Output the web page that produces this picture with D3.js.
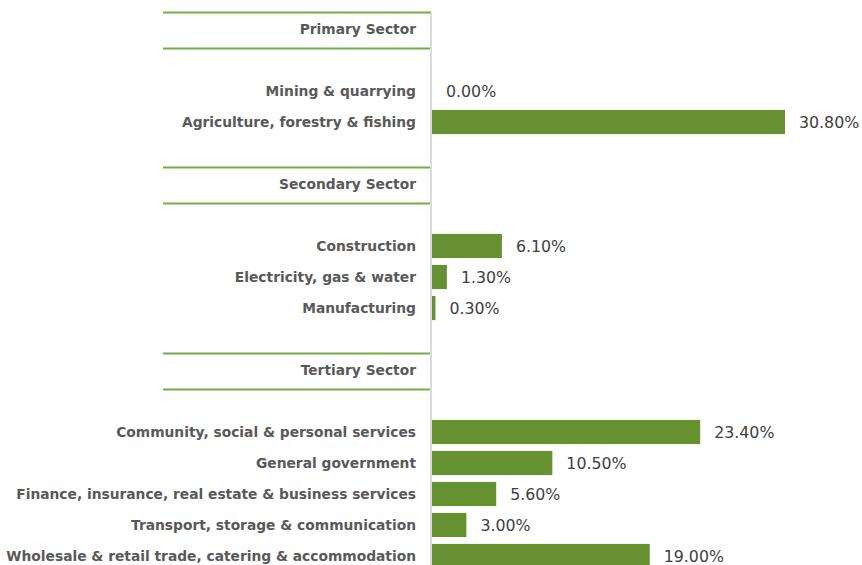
<!DOCTYPE html>
<html>
<head>
<meta charset="utf-8">
<script src="https://cdn.jsdelivr.net/npm/d3@7"></script>
<style>
  body { margin: 0; background: #fff; }
  .label { font-family: "DejaVu Sans", sans-serif; font-weight: bold; fill: #595959; }
  .value { font-family: "DejaVu Sans", sans-serif; fill: #404040; }
</style>
</head>
<body>
<div id="chart"></div>
<script>
// rows from top to bottom; headers and blank spacer rows included
var rows = ["Primary Sector", "gap1", "Mining & quarrying", "Agriculture, forestry & fishing", "gap2",
  "Secondary Sector", "gap3", "Construction", "Electricity, gas & water", "Manufacturing", "gap4",
  "Tertiary Sector", "gap5", "Community, social & personal services", "General government",
  "Finance, insurance, real estate & business services", "Transport, storage & communication",
  "Wholesale & retail trade, catering & accommodation"];

var headers = ["Primary Sector", "Secondary Sector", "Tertiary Sector"];

var categories = ["Mining & quarrying", "Agriculture, forestry & fishing", "Construction",
  "Electricity, gas & water", "Manufacturing", "Community, social & personal services",
  "General government", "Finance, insurance, real estate & business services",
  "Transport, storage & communication", "Wholesale & retail trade, catering & accommodation"];

var values = [0.0, 30.8, 6.1, 1.3, 0.3, 23.4, 10.5, 5.6, 3.0, 19.0];

var svgWidth = 862;
var svgHeight = 565;

var axisX = 431;

var svg = d3.select("#chart")
  .append("svg")
  .attr("width", svgWidth)
  .attr("height", svgHeight);

var yScale = d3.scaleBand()
  .domain(rows)
  .range([13.5, 13.5 + 31 * rows.length])
  .paddingInner(0.22)
  .paddingOuter(0.11);

var xScale = d3.scaleLinear()
  .domain([0, 30.8])
  .range([axisX + 1, 785]);

var data = categories.map(function(c, i) { return {name: c, value: values[i]}; });

// header lines
headers.forEach(function(h) {
  var cy = yScale(h) + yScale.bandwidth() / 2;
  [cy - 16.5, cy + 19.5].forEach(function(ly) {
    svg.append("line")
      .attr("x1", 163)
      .attr("x2", axisX)
      .attr("y1", ly)
      .attr("y2", ly)
      .attr("stroke", "#70ad47")
      .attr("stroke-width", 2.2);
  });
});

// bars
svg.append("g")
  .selectAll("rect")
  .data(data)
  .enter()
  .append("rect")
  .attr("x", xScale(0))
  .attr("y", d => yScale(d.name))
  .attr("width", d => xScale(d.value) - xScale(0))
  .attr("height", yScale.bandwidth())
  .attr("fill", "#669131");

// vertical axis
svg.append("line")
  .attr("x1", axisX)
  .attr("x2", axisX)
  .attr("y1", 13)
  .attr("y2", svgHeight)
  .attr("stroke", "#d9d9d9")
  .attr("stroke-width", 2);

// category and header labels
svg.append("g")
  .selectAll("text")
  .data(headers.concat(categories))
  .enter()
  .append("text")
  .attr("class", "label")
  .attr("x", 416)
  .attr("y", d => yScale(d) + yScale.bandwidth() / 2)
  .attr("dy", "0.35em")
  .attr("text-anchor", "end")
  .style("font-size", "13.8px")
  .text(d => d);

// value labels
svg.append("g")
  .selectAll("text")
  .data(data)
  .enter()
  .append("text")
  .attr("class", "value")
  .attr("x", d => xScale(d.value) + 14)
  .attr("y", d => yScale(d.name) + yScale.bandwidth() / 2)
  .attr("dy", "0.35em")
  .style("font-size", "15.8px")
  .text(d => d.value.toFixed(2) + "%");
</script>
</body>
</html>
